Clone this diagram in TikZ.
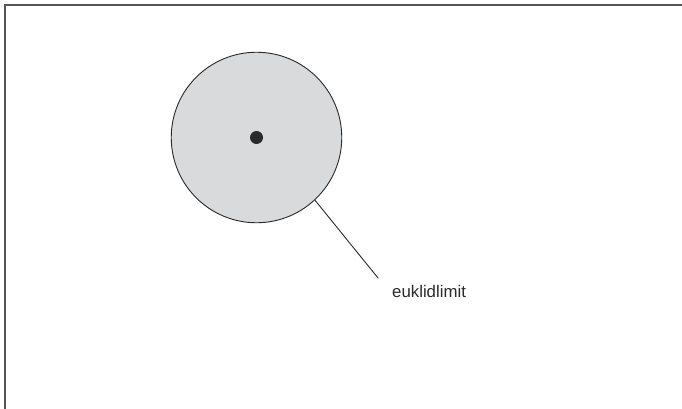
\documentclass[tikz,border=0pt]{standalone}
\usepackage{fontspec}
\setmainfont{Liberation Sans}
\definecolor{discfill}{HTML}{D9DADB}
\definecolor{framecol}{HTML}{555555}
\definecolor{inkcol}{HTML}{2A2A2A}
\begin{document}
\begin{tikzpicture}[x=1pt,y=-1pt,
  framestyle/.style={draw=framecol,line width=1.8pt},
  disc/.style={circle,draw=inkcol,fill=discfill,line width=0.9pt,minimum size=170.5pt,inner sep=0pt},
  centerdot/.style={circle,fill=inkcol,minimum size=13pt,inner sep=0pt},
  leader/.style={draw=inkcol,line width=0.9pt},
  lbl/.style={font=\fontsize{16.8}{20}\selectfont,text=inkcol,inner sep=0pt}]
\useasboundingbox (0,0) rectangle (682,409);
\fill[white] (0,0) rectangle (682,409);
\coordinate (fbl) at (5,410);
\coordinate (ftl) at (5,5);
\coordinate (ftr) at (683,5);
\draw[framestyle] (fbl) -- (ftl) -- (ftr);
\node[disc] (c) at (256.5,137.5) {};
\node[centerdot] (d) at (c.center) {};
\coordinate (lend) at (378.3,278.3);
\draw[leader] (c.-47) -- (lend);
\node[lbl,anchor=base west] (t) at (392,297.5) {euklidlimit};
\end{tikzpicture}
\end{document}
